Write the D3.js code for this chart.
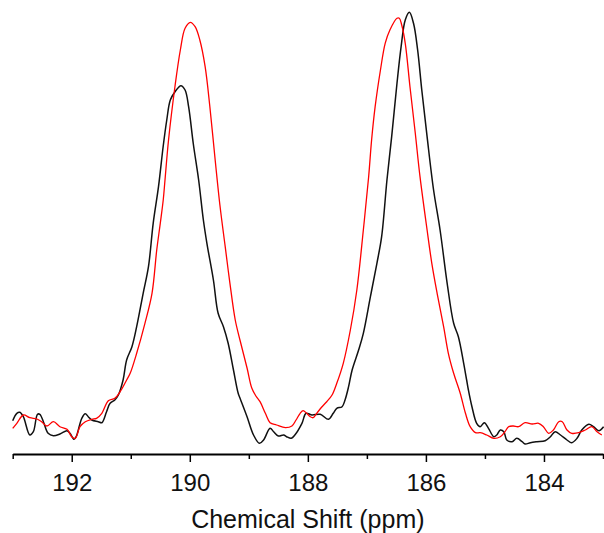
<!DOCTYPE html>
<html>
<head>
<meta charset="utf-8">
<script src="https://cdn.jsdelivr.net/npm/d3@7"></script>
<style>
  body { margin: 0; background: #fff; }
  svg { display: block; font-family: "Liberation Sans", Arial, sans-serif; }
</style>
</head>
<body>
<svg width="604" height="533"></svg>
<script>
// chemical shift (ppm) and intensity (a.u.)
const blackPpm = [193.00, 192.93, 192.88, 192.82, 192.71, 192.65, 192.58, 192.54, 192.48, 192.40,
    192.31, 192.20, 192.08, 192.03, 191.96, 191.92, 191.83, 191.77, 191.72, 191.66,
    191.55, 191.49, 191.41, 191.35, 191.27, 191.21, 191.13, 191.07, 190.98, 190.90,
    190.79, 190.70, 190.62, 190.53, 190.45, 190.39, 190.33, 190.25, 190.15, 190.08,
    190.02, 189.94, 189.85, 189.77, 189.71, 189.60, 189.52, 189.43, 189.35, 189.26,
    189.18, 189.15, 189.03, 188.92, 188.82, 188.75, 188.64, 188.58, 188.50, 188.41,
    188.36, 188.28, 188.22, 188.10, 188.03, 187.93, 187.79, 187.65, 187.57, 187.51,
    187.42, 187.37, 187.31, 187.25, 187.14, 187.06, 186.94, 186.83, 186.75, 186.66,
    186.58, 186.49, 186.42, 186.35, 186.28, 186.21, 186.14, 186.07, 185.98, 185.87,
    185.76, 185.64, 185.53, 185.45, 185.36, 185.31, 185.28, 185.22, 185.14, 185.08,
    185.01, 184.94, 184.85, 184.80, 184.74, 184.68, 184.63, 184.54, 184.46, 184.37,
    184.32, 184.23, 184.12, 183.98, 183.89, 183.81, 183.72, 183.61, 183.53, 183.44,
    183.36, 183.24, 183.16, 183.07, 182.99];
const blackInt = [19.3, 26.7, 27.7, 23.3, 5.0, 8.3, 25.7, 25.7, 18.3, 6.7,
    4.3, 6.0, 9.3, 6.7, 0.7, 4.0, 21.7, 26.3, 23.3, 20.0,
    18.3, 17.3, 28.3, 36.7, 40.0, 45.0, 60.0, 80.0, 93.3, 113.3,
    146.7, 173.3, 216.7, 253.3, 294.0, 320.0, 340.0, 348.3, 354.3, 350.0,
    333.3, 296.0, 260.0, 220.0, 196.7, 160.0, 126.7, 113.3, 96.7, 70.0,
    46.7, 42.0, 23.3, 5.0, -3.3, 0.0, 11.7, 8.3, 4.0, 5.0,
    3.3, 1.7, 5.0, 16.7, 26.7, 25.0, 25.7, 20.7, 26.7, 31.7,
    33.3, 40.0, 53.3, 70.0, 90.0, 106.7, 143.3, 176.7, 203.3, 260.0,
    303.3, 356.7, 393.3, 420.0, 427.7, 416.7, 390.0, 350.0, 303.3, 250.0,
    210.0, 156.7, 116.7, 103.3, 76.7, 60.0, 50.0, 33.3, 16.7, 13.3,
    17.3, 11.7, 3.3, 5.0, 10.0, 8.3, 0.0, -1.7, 1.7, -1.7,
    -4.0, -2.7, -1.7, -0.7, 3.3, 8.3, 5.0, 0.0, -2.7, 1.7,
    10.0, 15.7, 13.3, 9.3, 13.3];

const redPpm = [193.00, 192.93, 192.82, 192.71, 192.59, 192.51, 192.42, 192.31, 192.20, 192.08,
    192.00, 191.94, 191.86, 191.77, 191.66, 191.58, 191.49, 191.38, 191.27, 191.18,
    191.07, 191.01, 190.90, 190.76, 190.64, 190.56, 190.50, 190.45, 190.42, 190.36,
    190.25, 190.16, 190.08, 189.99, 189.91, 189.83, 189.74, 189.66, 189.57, 189.49,
    189.40, 189.32, 189.23, 189.15, 189.03, 188.95, 188.88, 188.81, 188.72, 188.64,
    188.53, 188.38, 188.27, 188.20, 188.13, 188.08, 188.02, 187.96, 187.91, 187.85,
    187.76, 187.68, 187.59, 187.51, 187.40, 187.28, 187.17, 187.06, 186.97, 186.92,
    186.86, 186.77, 186.69, 186.61, 186.49, 186.45, 186.41, 186.35, 186.27, 186.18,
    186.10, 185.98, 185.90, 185.81, 185.70, 185.62, 185.53, 185.42, 185.33, 185.25,
    185.16, 185.08, 184.97, 184.85, 184.74, 184.66, 184.60, 184.52, 184.43, 184.32,
    184.20, 184.09, 184.01, 183.92, 183.84, 183.75, 183.69, 183.61, 183.53, 183.41,
    183.30, 183.19, 183.10, 183.02];
const redInt = [11.7, 16.7, 25.0, 22.3, 21.0, 18.3, 14.0, 18.3, 13.3, 10.7,
    3.3, 1.7, 13.3, 18.3, 20.7, 21.7, 26.7, 39.3, 41.7, 48.3,
    60.0, 66.7, 86.7, 116.7, 146.7, 190.0, 216.7, 240.0, 260.0, 300.0,
    354.0, 390.0, 411.7, 417.7, 413.3, 400.0, 373.3, 333.3, 280.0, 235.0,
    193.3, 156.7, 120.0, 100.0, 72.0, 52.0, 44.0, 38.3, 26.7, 17.3,
    15.0, 12.3, 14.0, 20.0, 26.7, 29.3, 26.7, 23.3, 22.3, 26.7,
    33.3, 38.3, 45.0, 56.7, 76.7, 110.0, 150.0, 210.0, 263.3, 300.0,
    333.3, 370.0, 396.7, 410.0, 421.7, 421.7, 415.0, 396.7, 353.3, 306.7,
    263.3, 210.0, 176.7, 146.7, 113.3, 86.7, 66.7, 47.0, 26.7, 13.3,
    7.3, 7.3, 5.0, 1.7, 3.3, 8.3, 13.3, 14.0, 13.3, 17.3,
    16.0, 16.7, 13.3, 6.7, 10.0, 18.3, 18.3, 10.0, 6.7, 7.3,
    10.0, 13.3, 8.3, 5.0];

const majorTicks = [192, 190, 188, 186, 184];
const minorTicks = [193, 191, 189, 187, 185, 183];
const xTitle = "Chemical Shift (ppm)";

const svg = d3.select("svg");
const margin = { left: 12.7, right: 1, axisY: 454 };
const width = +svg.attr("width");

const x = d3.scaleLinear()
    .domain([193, 183])
    .range([margin.left, width - margin.right]);

const y = d3.scaleLinear()
    .domain([0, 428])
    .range([440, 12]);

const line = d3.line()
    .x(d => x(d[0]))
    .y(d => y(d[1]))
    .curve(d3.curveCatmullRom.alpha(0.5));

const black = d3.zip(blackPpm, blackInt);
const red = d3.zip(redPpm, redInt);

svg.append("path")
    .datum(black)
    .attr("fill", "none")
    .attr("stroke", "#111")
    .attr("stroke-width", 1.5)
    .attr("d", line);

svg.append("path")
    .datum(red)
    .attr("fill", "none")
    .attr("stroke", "#ff0000")
    .attr("stroke-width", 1.3)
    .attr("d", line);

// minor ticks first, then major axis with the baseline
const minorAxis = svg.append("g")
    .attr("transform", `translate(0,${margin.axisY})`)
    .call(d3.axisBottom(x).tickValues(minorTicks).tickSize(5).tickFormat(""));
minorAxis.select(".domain").remove();
minorAxis.selectAll("line").attr("stroke", "#000").attr("stroke-width", 1.5);

const majorAxis = svg.append("g")
    .attr("transform", `translate(0,${margin.axisY})`)
    .call(d3.axisBottom(x).tickValues(majorTicks).tickSize(8).tickSizeOuter(0).tickPadding(12).tickFormat(d3.format("d")));
majorAxis.select(".domain").attr("stroke", "#000").attr("stroke-width", 2);
majorAxis.selectAll("line").attr("stroke", "#000").attr("stroke-width", 1.5);
majorAxis.selectAll("text")
    .attr("font-size", 24)
    .attr("font-family", "Liberation Sans, Arial, sans-serif")
    .attr("fill", "#111");

svg.append("text")
    .attr("x", (x(193) + x(183)) / 2)
    .attr("y", 528)
    .attr("text-anchor", "middle")
    .attr("font-size", 25)
    .attr("fill", "#111")
    .text(xTitle);
</script>
</body>
</html>
